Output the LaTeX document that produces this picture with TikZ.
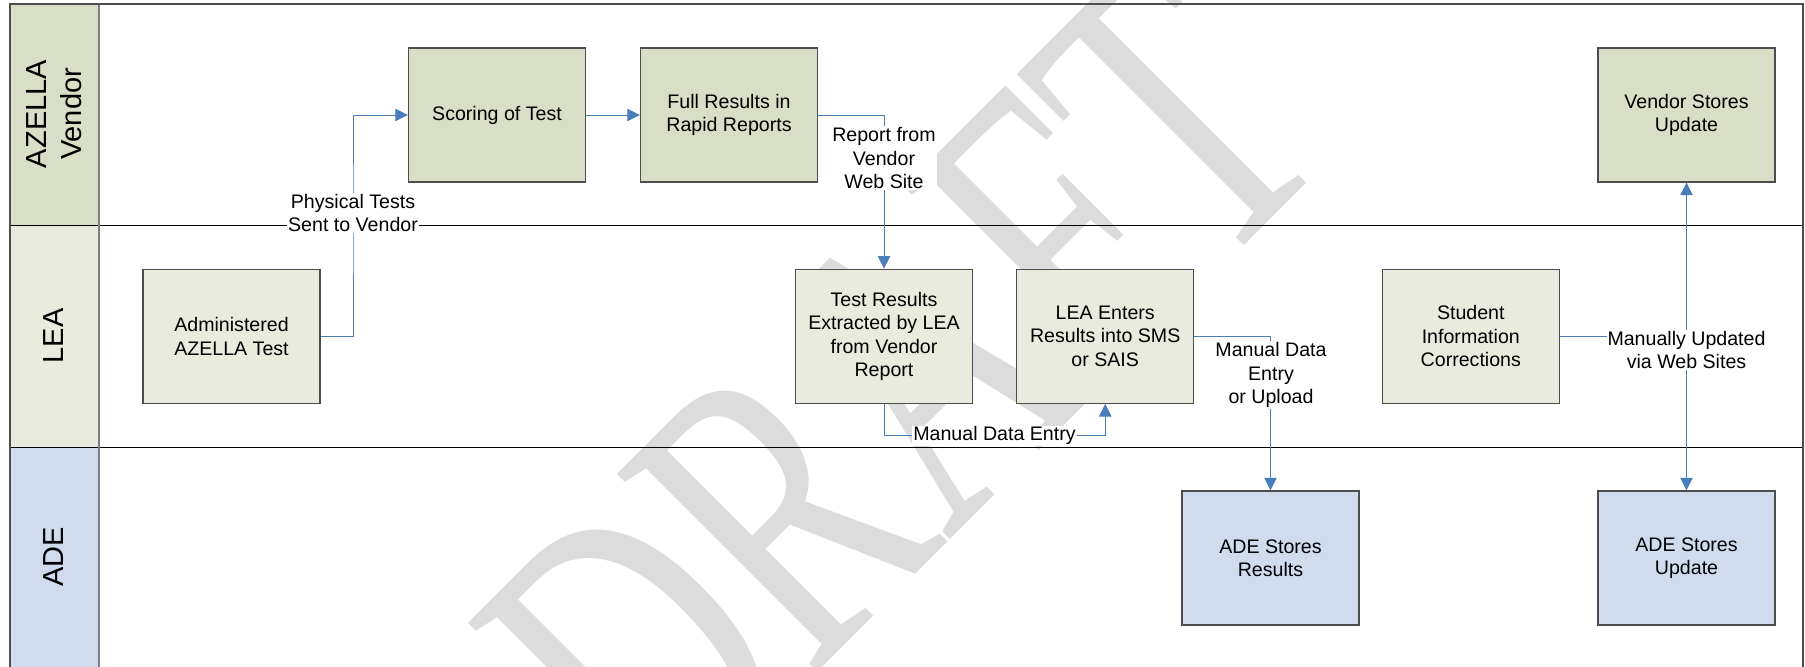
\documentclass[tikz,border=0pt]{standalone}
\usepackage{fontspec}
\setmainfont{Liberation Sans}
\newfontfamily\draftfont{Liberation Serif}
\usetikzlibrary{arrows.meta}
\definecolor{vendorfill}{HTML}{D9DEC6}
\definecolor{leafill}{HTML}{EAEBDF}
\definecolor{adefill}{HTML}{D0DBEE}
\definecolor{flowblue}{HTML}{4A7EBB}
\definecolor{boxline}{HTML}{4D4D4D}
\definecolor{draftgray}{HTML}{DCDCDC}
\begin{document}
\begin{tikzpicture}[x=0.5pt, y=-0.5pt,
        box/.style={draw=boxline, line width=0.6pt, minimum width=88.5pt, minimum height=67pt, align=center, inner sep=2pt, font=\fontsize{9.8}{11.7}\selectfont},
        vendorbox/.style={box, fill=vendorfill},
        leabox/.style={box, fill=leafill},
        adebox/.style={box, fill=adefill},
        lanename/.style={rotate=90, align=center, font=\fontsize{14.5}{17.8}\selectfont},
        lbl/.style={fill=white, inner sep=0.5pt, align=center, font=\fontsize{9.8}{11.7}\selectfont},
        flow/.style={draw=flowblue, line width=0.5pt, -{Triangle[length=6.3pt, width=6.2pt]}}]
                \useasboundingbox (0,0) rectangle (1805,666);
                % lanes
                \fill[vendorfill] (10,4) rectangle (99,225);
                \fill[leafill] (10,225) rectangle (99,447);
                \fill[adefill] (10,447) rectangle (99,668);
                \node[text=draftgray, rotate=45, xscale=0.68, inner sep=0, font=\draftfont\fontsize{215}{215}\selectfont] (draft) at (900,390) {DRAFT};
                \draw[black, line width=0.5pt] (10,225) -- (1803,225) (10,447) -- (1803,447);
                \draw[gray, line width=1pt] (99,4) -- (99,668);
                \draw[boxline, line width=0.8pt] (10,4) rectangle (1803,668);
                \node[lanename] (vendorlane) at (54,114) {AZELLA\\Vendor};
                \node[lanename] (lealane) at (54,336) {LEA};
                \node[lanename] (adelane) at (54,557) {ADE};
                % steps
                \node[vendorbox] (score) at (497,115) {Scoring of Test};
                \node[vendorbox] (full) at (729,115) {Full Results in\\Rapid Reports};
                \node[vendorbox] (vstore) at (1686.5,115) {Vendor Stores\\Update};
                \node[leabox] (admin) at (231.5,336.3) {Administered\\AZELLA Test};
                \node[leabox] (extract) at (884,336.3) {Test Results\\Extracted by LEA\\from Vendor\\Report};
                \node[leabox] (enters) at (1105.2,336.3) {LEA Enters\\Results into SMS\\or SAIS};
                \node[leabox] (student) at (1470.8,336.3) {Student\\Information\\Corrections};
                \node[adebox] (aderes) at (1270.5,558) {ADE Stores\\Results};
                \node[adebox] (adeupd) at (1686.5,558) {ADE Stores\\Update};
                % flows
                \coordinate (physat) at (353,213);
                \coordinate (mdeat) at (994.5,435.7);
                \draw[flow] (admin.east) -| (physat) |- (score.west);
                \draw[flow] (score.east) -- (full.west);
                \draw[flow] (full.east) -| (extract.north);
                \draw[flow] (extract.south) |- (mdeat) -| (enters.south);
                \draw[flow] (enters.east) -| (aderes.north);
                \draw[flow] (student.east) -| (vstore.south);
                \draw[flow] (student.east -| adeupd.north) -- (adeupd.north);
                \node[lbl] (phys) at (physat) {Physical Tests\\Sent to Vendor};
                \node[lbl] (webrep) at (884,158) {Report from\\Vendor\\Web Site};
                \node[lbl] (mde) at (mdeat) {Manual Data Entry};
                \node[lbl] (upload) at (1271,375) {Manual Data\\Entry\\or Upload};
                \node[lbl] (webupd) at (1686.5,350) {Manually Updated\\via Web Sites};
\end{tikzpicture}
\end{document}
